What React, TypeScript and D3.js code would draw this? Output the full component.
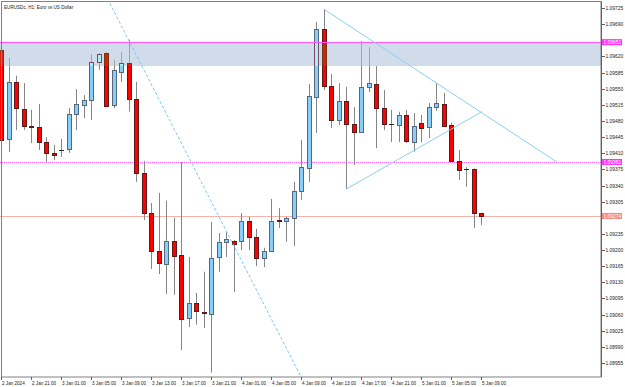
import * as d3 from 'd3'

// EURUSDc H1, 2 Jan 17:00 .. 5 Jan 09:00
const opens = [
  1.09634, 1.09441, 1.09565, 1.09506, 1.09469, 1.09467, 1.09434, 1.09411, 1.09417, 1.09419,
  1.09495, 1.09515, 1.09525, 1.09608, 1.09627, 1.09515, 1.09586, 1.09606, 1.09528, 1.09367,
  1.0928, 1.09198, 1.0917, 1.0922, 1.09189, 1.09053, 1.09085, 1.09066, 1.09061, 1.09185,
  1.09218, 1.0922, 1.0922, 1.09263, 1.09228, 1.09183, 1.09198, 1.09265, 1.09263, 1.0927,
  1.09328, 1.09378, 1.09532, 1.09679, 1.09556, 1.09482, 1.09523, 1.09473, 1.09456, 1.09554,
  1.0956, 1.09508, 1.09473, 1.09471, 1.09493, 1.09434, 1.09476, 1.09467, 1.0951, 1.09517,
  1.09471, 1.09393, 1.09376, 1.09376, 1.0928,
]
const highs = [
  1.09638, 1.09617, 1.09578, 1.09562, 1.09504, 1.09517, 1.09445, 1.09428, 1.09441, 1.09508,
  1.09549, 1.09536, 1.09625, 1.09627, 1.0963, 1.09612, 1.0963, 1.09656, 1.09565, 1.09393,
  1.09302, 1.09324, 1.09307, 1.0927, 1.09391, 1.09185, 1.09107, 1.09153, 1.09261, 1.09237,
  1.09239, 1.09222, 1.0928, 1.09272, 1.09246, 1.09205, 1.09311, 1.09291, 1.09272, 1.09348,
  1.09439, 1.0956, 1.09695, 1.09723, 1.09582, 1.09562, 1.09554, 1.0951, 1.09653, 1.0964,
  1.09599, 1.09547, 1.09504, 1.095, 1.09504, 1.09497, 1.09493, 1.09519, 1.09562, 1.09541,
  1.09476, 1.09417, 1.0938, 1.09377, 1.09281,
]
const lows = [
  1.09434, 1.09413, 1.0946, 1.0946, 1.09432, 1.09417, 1.09391, 1.09395, 1.09402, 1.09411,
  1.0946, 1.09486, 1.09482, 1.09591, 1.0951, 1.09508, 1.09565, 1.095, 1.09348, 1.09265,
  1.09159, 1.09148, 1.09105, 1.09103, 1.08983, 1.09033, 1.09038, 1.09031, 1.08934, 1.09153,
  1.09185, 1.09109, 1.092, 1.092, 1.09165, 1.09163, 1.09196, 1.09248, 1.09218, 1.09209,
  1.09309, 1.09348, 1.09454, 1.09547, 1.09465, 1.09471, 1.09332, 1.09384, 1.09454, 1.09543,
  1.09421, 1.0946, 1.09434, 1.09434, 1.09432, 1.09413, 1.09434, 1.09443, 1.09502, 1.09467,
  1.09391, 1.09352, 1.09337, 1.09248, 1.09254,
]
const closes = [
  1.09439, 1.09565, 1.09508, 1.09469, 1.09467, 1.09434, 1.09411, 1.09407, 1.09418, 1.09495,
  1.09517, 1.09525, 1.09608, 1.09625, 1.09512, 1.09591, 1.09606, 1.09528, 1.09367, 1.0928,
  1.09198, 1.09172, 1.0922, 1.09187, 1.09051, 1.09085, 1.09068, 1.09063, 1.09183, 1.09218,
  1.09224, 1.09213, 1.09263, 1.09228, 1.09183, 1.09198, 1.09263, 1.09263, 1.0927, 1.09328,
  1.0938, 1.09534, 1.09679, 1.09556, 1.09482, 1.09523, 1.09473, 1.09456, 1.09554, 1.09562,
  1.09508, 1.09473, 1.09474, 1.09493, 1.09437, 1.09469, 1.09465, 1.0951, 1.09519, 1.09469,
  1.09393, 1.09374, 1.09375, 1.0928, 1.09274,
]

const timeLabels = [
  '2 Jan 2024', '2 Jan 21:00', '3 Jan 01:00', '3 Jan 05:00', '3 Jan 09:00', '3 Jan 13:00',
  '3 Jan 17:00', '3 Jan 21:00', '4 Jan 01:00', '4 Jan 05:00', '4 Jan 09:00', '4 Jan 13:00',
  '4 Jan 17:00', '4 Jan 21:00', '5 Jan 01:00', '5 Jan 05:00', '5 Jan 09:00',
]
const priceTicks = [
  '1.08955', '1.08990', '1.09025', '1.09060', '1.09095', '1.09130', '1.09165', '1.09200',
  '1.09235', '1.09270', '1.09305', '1.09340', '1.09375', '1.09410', '1.09445', '1.09480',
  '1.09515', '1.09550', '1.09585', '1.09620', '1.09655', '1.09690', '1.09725',
]

// drawn objects
const zoneTop = 1.09651
const zoneBottom = 1.09601
const supportLevel = 1.09391
const bidPrice = 1.09274
const trendLine = [{ bar: 17, price: 1.09656 }, { bar: 40, price: 1.08925 }]
const triUpper = [{ bar: 43, price: 1.09723 }, { bar: 74.1, price: 1.09391 }]
const triLower = [{ bar: 46, price: 1.09332 }, { bar: 64.1, price: 1.095 }]

const W = 625
const H = 387
const right = 601
const top = 1.5
const bottom = 377

// the zone is painted in xor mode on top of the candles, like the terminal does
const zoneXor = 0x2f2315
const xor = (hex: string) =>
  '#' + (parseInt(hex.slice(1), 16) ^ zoneXor).toString(16).padStart(6, '0')
const same = (hex: string) => hex

export default function App() {
  const x = d3.scaleLinear().domain([0, 64]).range([1, 481])
  const y = d3.scaleLinear().domain([1.08955, 1.09725]).range([363, 8])
  const font = '"Liberation Sans", Arial, sans-serif'

  const labels = [
    { price: zoneTop, text: zoneTop.toFixed(5), bg: '#ff33ff' },
    { price: supportLevel, text: supportLevel.toFixed(5), bg: '#ff33ff' },
    { price: bidPrice, text: bidPrice.toFixed(5), bg: '#f48a7c' },
  ]
  const tickVisible = (p: number) => labels.every(l => Math.abs(y(l.price) - y(p)) > 6)

  // extend the trend line across the whole plot
  const tSlope = (y(trendLine[1].price) - y(trendLine[0].price)) / (x(trendLine[1].bar) - x(trendLine[0].bar))
  const tx0 = x(trendLine[0].bar)
  const ty0 = y(trendLine[0].price)
  const tLine = d3.line<number>()(
    [-200, 800].map(px => [px, ty0 + (px - tx0) * tSlope]) as any
  )

  const seg = (pts: { bar: number; price: number }[]) =>
    d3.line<{ bar: number; price: number }>().x(d => x(d.bar)).y(d => y(d.price))(pts) || ''

  const zy0 = Math.round(y(zoneTop)) + 1
  const zy1 = Math.round(y(zoneBottom)) + 1

  const candles = (col: (h: string) => string) =>
    opens.map((o, i) => {
      const c = closes[i]
      const cx = Math.round(x(i))
      const p0 = cx - 2
      const yt = Math.round(y(Math.max(o, c))) + 0.5
      const yb = Math.round(y(Math.min(o, c))) + 0.5
      const doji = Math.abs(o - c) <= 0.000011
      const bull = c > o
      return (
        <g key={i}>
          <line x1={cx + 0.5} x2={cx + 0.5} y1={y(highs[i])} y2={y(lows[i])} stroke={col('#868686')} />
          {doji ? (
            <line x1={p0} x2={p0 + 5} y1={yt} y2={yt} stroke={col('#222222')} />
          ) : (
            <rect x={p0 + 0.5} y={yt} width={4} height={Math.max(1, yb - yt)}
              fill={col(bull ? '#87cefa' : '#ff0000')} stroke={col(bull ? '#56697c' : '#5c1a1a')} />
          )}
        </g>
      )
    })

  return (
    <svg width={W} height={H} style={{ position: 'absolute', left: 0, top: 0, background: '#fff' }}>
      <defs>
        <clipPath id="plot">
          <rect x={0} y={top} width={right} height={bottom - top} />
        </clipPath>
        <clipPath id="zone">
          <rect x={0} y={zy0} width={right} height={zy1 - zy0} />
        </clipPath>
      </defs>

      <g clipPath="url(#plot)">
        <line x1={0} x2={right} y1={Math.round(y(supportLevel)) + 0.5} y2={Math.round(y(supportLevel)) + 0.5}
          stroke="#ff66ff" strokeDasharray="1,1" />
        <line x1={0} x2={right} y1={Math.round(y(bidPrice)) + 0.5} y2={Math.round(y(bidPrice)) + 0.5} stroke="#f6b2a8" />

        {candles(same)}

        {/* zone in xor colours */}
        <g clipPath="url(#zone)">
          <rect x={0} y={zy0} width={right} height={zy1 - zy0} fill={xor('#ffffff')} />
          {candles(xor)}
        </g>
        <line x1={0} x2={right} y1={Math.round(y(zoneTop)) + 0.5} y2={Math.round(y(zoneTop)) + 0.5} stroke="#ff55ff" />

        {/* analysis lines */}
        <path d={tLine || ''} stroke="#7cc6f6" strokeDasharray="3,2" fill="none" />
        <path d={seg(triUpper)} stroke="#8ccdf6" fill="none" />
        <path d={seg(triLower)} stroke="#8ccdf6" fill="none" />
      </g>

      {/* frame */}
      <rect x={1.5} y={top} width={right - 1.5} height={bottom - top} fill="none" stroke="#808080" />
      <line x1={right + 0.5} x2={right + 0.5} y1={top} y2={bottom} stroke="#606060" />

      <text x={4} y={9} fontSize={4.6} fontFamily={font} fill="#222">EURUSDc, H1:  Euro vs US Dollar</text>

      {/* price axis */}
      {priceTicks.map(t => {
        const p = +t
        const py = Math.round(y(p)) + 0.5
        return (
          <g key={t}>
            <line x1={right + 1} x2={right + 4} y1={py} y2={py} stroke="#606060" />
            {tickVisible(p) && (
              <text x={right + 4.5} y={py} dy="0.35em" fontSize={4.9} fontFamily={font} fill="#222">{t}</text>
            )}
          </g>
        )
      })}
      {labels.map(l => {
        const py = y(l.price)
        return (
          <g key={l.text}>
            <rect x={right + 1} y={py - 3} width={20} height={6} fill={l.bg} />
            <text x={right + 2.5} y={py} dy="0.35em" fontSize={4.9} fontFamily={font} fill="#fff">{l.text}</text>
          </g>
        )
      })}

      {/* time axis */}
      {timeLabels.map((t, k) => {
        const tx = Math.round(x(k * 4)) + 0.5
        return (
          <g key={t}>
            <line x1={tx} x2={tx} y1={bottom} y2={bottom + 3} stroke="#606060" />
            <text x={tx + 0.5} y={385} fontSize={4.6} fontFamily={font} fill="#222">{t}</text>
          </g>
        )
      })}
    </svg>
  )
}
